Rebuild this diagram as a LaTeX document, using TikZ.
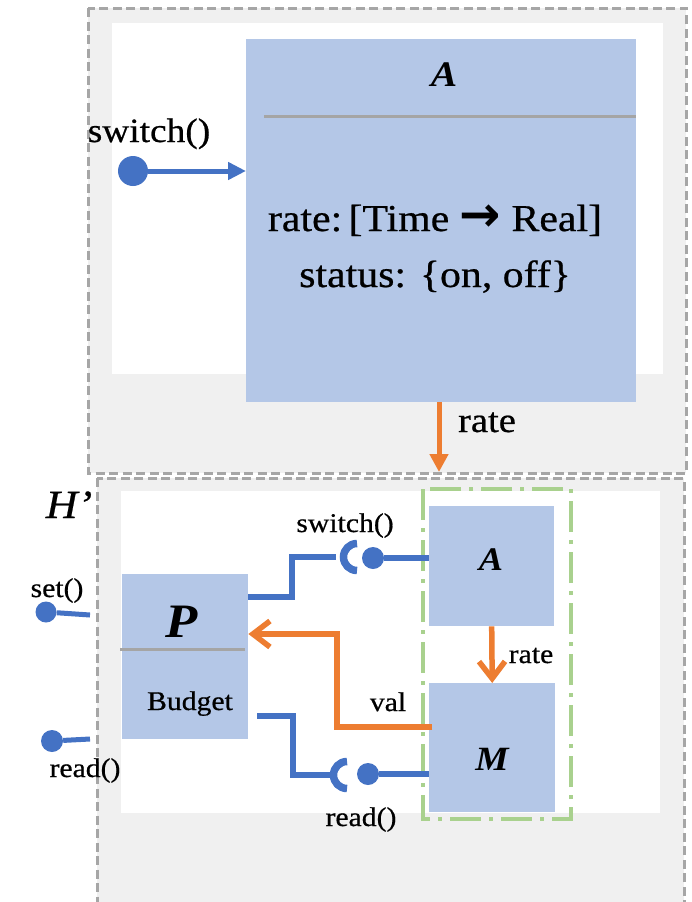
\documentclass[tikz,border=0pt]{standalone}
\usepackage{fontspec}
\setmainfont{Liberation Serif}[FakeStretch=1.1, UprightFeatures={FakeBold=0.6}, ItalicFeatures={FakeBold=0.6}]
\newfontfamily\arrowfont{DejaVu Sans}
\usetikzlibrary{arrows.meta,calc}

\definecolor{boxblue}{HTML}{B4C7E7}
\definecolor{linkblue}{HTML}{4472C4}
\definecolor{flow}{HTML}{ED7D31}
\definecolor{frame}{HTML}{A6A6A6}
\definecolor{panel}{HTML}{F0F0F0}
\definecolor{rulegray}{HTML}{A5A5A5}
\definecolor{group}{HTML}{A9D18E}

\newcommand{\fs}[1]{\fontsize{#1}{#1}\selectfont}

\begin{document}
\begin{tikzpicture}[x=1pt,y=-1pt,
  region/.style={fill=panel, draw=frame, line width=3pt, dash pattern=on 9pt off 4.5pt},
  whitearea/.style={fill=white, draw=none},
  block/.style={fill=boxblue, draw=none, inner sep=0pt, anchor=north west},
  sep/.style={draw=rulegray, line width=3pt},
  ball/.style={circle, fill=linkblue, draw=none, inner sep=0pt},
  link/.style={draw=linkblue, line width=5.5pt},
  socket/.style={draw=linkblue, line width=7.5pt},
  flowline/.style={draw=flow, line width=5.5pt},
  barb/.style={-{Straight Barb[length=17pt,width=26pt]}},
  grp/.style={draw=group, line width=4pt, dash pattern=on 31pt off 8pt on 4pt off 8pt},
  lbl/.style={inner sep=0pt, anchor=base, text=black},
]
\clip (0,0) rectangle (691,902);

% ---------- upper region: the component A ----------
\draw[region] (88,8) rectangle (686,473);
\fill[whitearea] (112,23) rectangle (663,374);

\node[block, minimum width=390pt, minimum height=363pt] (bigA) at (246,39) {};
\draw[sep] ($(bigA.north west)+(18,77)$) -- ($(bigA.north east)+(0,77)$);
\node[lbl, font=\fs{36}\bfseries\itshape] (bigAname) at (444,86) {A};
\node[lbl, font=\fs{38}] (rateType) at (435,231) {rate:\,[Time \scalebox{1.3}{\arrowfont\bfseries →} Real]};
\node[lbl, font=\fs{38}] (statusType) at (435,287) {status: \{on, off\}};

\node[ball, minimum size=30pt] (swBall) at (133,171) {};
\draw[link, line width=5pt, -{Triangle[length=18pt,width=17pt]}] (swBall) -- (swBall -| bigA.west);
\node[lbl, font=\fs{34}] (swTop) at (149,142) {switch()};

\coordinate (rateIn) at (439,472);
\draw[draw=flow, line width=5pt, -{Triangle[length=18pt,width=18pt]}] (bigA.south -| rateIn) -- (rateIn);
\node[lbl, font=\fs{35}] (rateTop) at (487,432) {rate};

% ---------- lower region: H' ----------
\draw[region] (97,478) rectangle (684,940);
\fill[whitearea] (121,491) rectangle (660,813);
\node[lbl, font=\fs{40}\itshape] (Hname) at (69,518) {H’};

% group of A and M
\draw[grp] (423,489) rectangle (571,819);

% blocks
\node[block, minimum width=126pt, minimum height=165pt] (P) at (122,574) {};
\draw[sep] ($(P.north west)+(-2,75)$) -- ($(P.north east)+(-3,75)$);
\node[lbl, font=\fs{48}\bfseries\itshape] (Pname) at (182,637) {P};
\node[lbl, font=\fs{27}] (budget) at (190,710) {Budget};

\node[block, minimum width=125pt, minimum height=120pt] (sA) at (429,506) {};
\node[lbl, font=\fs{33}\bfseries\itshape] (sAname) at (491,570) {A};

\node[block, minimum width=126pt, minimum height=129pt] (M) at (429,683) {};
\node[lbl, font=\fs{34}\bfseries\itshape] (Mname) at (492,770) {M};

% A -> M : rate
\draw[flowline, barb] (sA.south) -- (M.north);
\node[lbl, font=\fs{27}] (rateLow) at (531,663) {rate};

% switch() : P requires, A provides
\coordinate (sock1) at (357,557);
\coordinate (sock1L) at (336,557);
\coordinate (j1) at (292,597);
\draw[socket] ($(sock1)+(0,13.5)$) arc[start angle=90, end angle=270, radius=13.5];
\draw[link] (P.east |- j1) -- (j1) |- (sock1L);
\node[ball, minimum size=22pt] (b1) at (373,558) {};
\draw[link] (b1) -- (b1 -| sA.west);
\node[lbl, font=\fs{27}] (swLow) at (345,532) {switch()};

% read() : P requires, M provides
\coordinate (sock2) at (347,775);
\coordinate (sock2L) at (331,775);
\coordinate (j2) at (293,716);
\coordinate (r0) at (257,716);
\draw[socket] ($(sock2)+(0,13.5)$) arc[start angle=90, end angle=270, radius=13.5];
\draw[link] (r0) -- (j2) |- (sock2L);
\node[ball, minimum size=22pt] (b2) at (368,774) {};
\draw[link] (b2) -- (b2 -| M.west);
\node[lbl, font=\fs{27}] (readLow) at (361,826) {read()};

% M -> P : val
\coordinate (vout) at (432,727);
\coordinate (v1) at (337,634);
\draw[flowline, barb] (vout) -| (v1) -- (P.east |- v1);
\node[lbl, font=\fs{27}] (val) at (388,711) {val};

% external ports of H'
\node[ball, minimum size=21pt] (setBall) at (46,612) {};
\coordinate (setEnd) at (90,615);
\draw[link, line width=5pt] (setBall) -- (setEnd);
\node[lbl, font=\fs{27}] (setLbl) at (57,597) {set()};

\node[ball, minimum size=22pt] (readBall) at (52,741) {};
\coordinate (readEnd) at (90,739);
\draw[link, line width=5pt] (readBall) -- (readEnd);
\node[lbl, font=\fs{27}] (readLbl) at (85,777) {read()};
\end{tikzpicture}
\end{document}
